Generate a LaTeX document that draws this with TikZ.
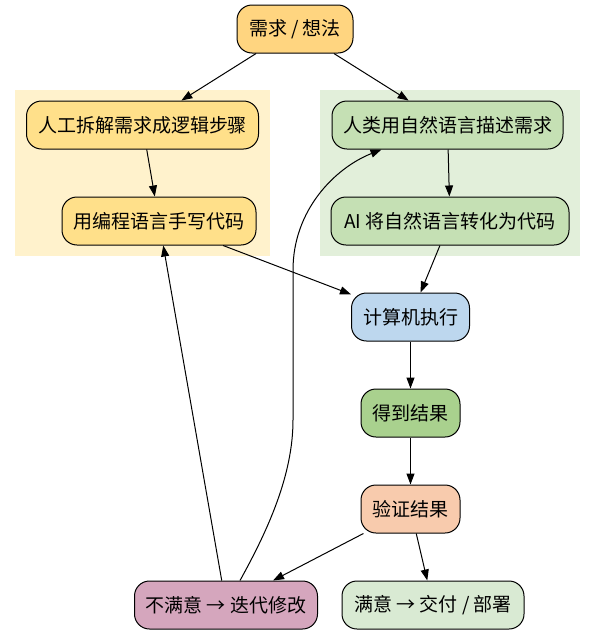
\documentclass[tikz,border=0pt]{standalone}
\usepackage{fontspec}
\setmainfont{Noto Sans CJK SC}
\usetikzlibrary{arrows.meta}
\definecolor{cTop}{HTML}{FFD580}
\definecolor{cLeft}{HTML}{FFE08A}
\definecolor{cLeftBg}{HTML}{FFF2CC}
\definecolor{cRight}{HTML}{C5E0B4}
\definecolor{cRightBg}{HTML}{E2EFDA}
\definecolor{cExec}{HTML}{BDD7EE}
\definecolor{cRes}{HTML}{A9D18E}
\definecolor{cVer}{HTML}{F8CBAD}
\definecolor{cBad}{HTML}{D5A6BD}
\definecolor{cGood}{HTML}{D9EAD3}
\tikzset{
  box/.style={draw=black, line width=1pt, rounded corners=15pt, minimum height=48pt, inner sep=0pt, font=\fontsize{19pt}{23pt}\selectfont, text=black},
  arr/.style={draw=black, line width=1pt, -{Triangle[length=11pt,width=8pt]}},
  cluster/.style={draw=none}
}
\begin{document}
\begin{tikzpicture}[x=1pt,y=-1pt]
\useasboundingbox (0,0) rectangle (595,635);
\fill[white] (0,0) rectangle (595,635);
% clusters
\path[fill=cLeftBg] (15,90) rectangle (270,256);
\path[fill=cRightBg] (320,90) rectangle (580,256);
% nodes
\node[box, fill=cTop, minimum width=116pt] (need) at (295,29) {需求 / 想法};
\node[box, fill=cLeft, minimum width=232pt] (manual) at (142.5,125) {人工拆解需求成逻辑步骤};
\node[box, fill=cLeft, minimum width=194pt] (code) at (159,221) {用编程语言手写代码};
\node[box, fill=cRight, minimum width=231pt] (human) at (447.5,125) {人类用自然语言描述需求};
\node[box, fill=cRight, minimum width=238pt] (ai) at (450,221) {AI 将自然语言转化为代码};
\node[box, fill=cExec, minimum width=118pt] (exec) at (410.5,317) {计算机执行};
\node[box, fill=cRes, minimum width=99pt] (res) at (410.5,413) {得到结果};
\node[box, fill=cVer, minimum width=99pt] (ver) at (410.5,509) {验证结果};
\node[box, fill=cBad, minimum width=183pt] (bad) at (226,605) {不满意 → 迭代修改};
\node[box, fill=cGood, minimum width=182pt] (good) at (433,605) {满意 → 交付 / 部署};
% edges
\draw[arr] (need) -- (manual);
\draw[arr] (need) -- (human);
\draw[arr] (manual) -- (code);
\draw[arr] (human) -- (ai);
\draw[arr] (code) -- (exec);
\draw[arr] (ai) -- (exec);
\draw[arr] (exec) -- (res);
\draw[arr] (res) -- (ver);
\draw[arr] (ver) -- (bad);
\draw[arr] (ver) -- (good);
\draw[arr] (bad) -- (code);
\draw[arr] ([xshift=14pt]bad.north) .. controls (268,530) and (293,475) .. (293,420) -- (293,270) .. controls (293,210) and (335,168) .. ([xshift=50pt]human.south west);
\end{tikzpicture}
\end{document}
